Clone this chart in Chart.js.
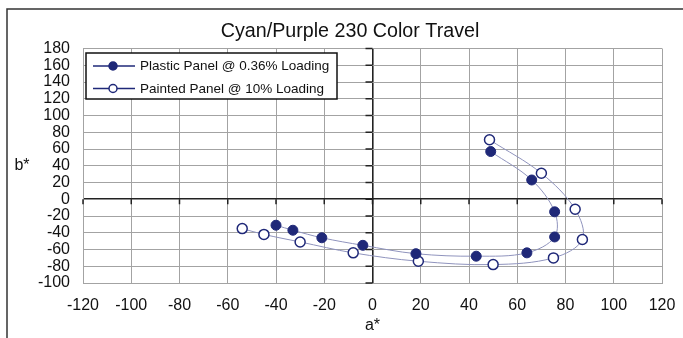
<!DOCTYPE html>
<html><head><meta charset="utf-8">
<script src="https://cdn.jsdelivr.net/npm/chart.js@4.4.1/dist/chart.umd.min.js"></script>
<style>html,body{margin:0;padding:0;background:#fff;}#wrap{width:683px;height:338px;position:relative;}</style>
</head><body><div id="wrap"><canvas id="c" width="683" height="338"></canvas></div>
<script>
const chartTitle = 'Cyan/Purple 230 Color Travel';
const xAxisTitle = 'a*';
const yAxisTitle = 'b*';
const seriesNames = ['Plastic Panel @ 0.36% Loading', 'Painted Panel @ 10% Loading'];
const plasticA = [-40, -33, -21, -4, 18, 43, 64, 75.5, 75.5, 66, 49];
const plasticB = [-31, -37, -46, -55, -65, -68, -64, -45, -15, 23, 57];
const paintedA = [-54, -45, -30, -8, 19, 50, 75, 87, 84, 70, 48.5];
const paintedB = [-35, -42, -51, -64, -74, -78, -70, -48, -12, 31, 71];
const xTicks = [-120, -100, -80, -60, -40, -20, 0, 20, 40, 60, 80, 100, 120];
const yTicks = [-100, -80, -60, -40, -20, 0, 20, 40, 60, 80, 100, 120, 140, 160, 180];

const NAVY = '#1f2878';
const LINE = '#8f93bd';
const GRID = '#a3a3a3';
const FONT = "'Liberation Sans', Arial, sans-serif";

const toPts = (xs, ys) => xs.map((x, i) => ({x: x, y: ys[i]}));

const decor = {
  id: 'decor',
  afterDraw(chart) {
    const ctx = chart.ctx;
    const xs = chart.scales.x, ys = chart.scales.y, ca = chart.chartArea;
    ctx.save();
    // outer frame
    ctx.strokeStyle = '#333'; ctx.lineWidth = 1.5;
    ctx.beginPath(); ctx.moveTo(7, 338); ctx.lineTo(7, 9); ctx.lineTo(683, 9); ctx.stroke();
    // zero-axis tick marks
    const x0 = xs.getPixelForValue(0), y0 = ys.getPixelForValue(0);
    ctx.strokeStyle = '#222'; ctx.lineWidth = 1.5;
    ctx.beginPath();
    yTicks.forEach(v => { const p = ys.getPixelForValue(v); ctx.moveTo(x0 - 7, p); ctx.lineTo(x0, p); });
    xTicks.forEach(v => { const p = xs.getPixelForValue(v); ctx.moveTo(p, y0); ctx.lineTo(p, y0 + 5); });
    ctx.stroke();
    // title
    ctx.fillStyle = '#111';
    ctx.font = '19.7px ' + FONT; ctx.textAlign = 'center'; ctx.textBaseline = 'middle';
    ctx.fillText(chartTitle, 350, 32);
    // y axis title (horizontal)
    ctx.font = '16px ' + FONT;
    ctx.fillText(yAxisTitle, 22, (ca.top + ca.bottom) / 2);
    // legend
    const bx = 86, by = 53, bw = 251, bh = 46;
    ctx.fillStyle = '#fff'; ctx.fillRect(bx, by, bw, bh);
    ctx.strokeStyle = '#111'; ctx.lineWidth = 1.5; ctx.strokeRect(bx, by, bw, bh);
    const rows = [66, 88.5];
    chart.data.datasets.forEach((ds, i) => {
      const y = rows[i];
      ctx.strokeStyle = NAVY; ctx.lineWidth = 1.5;
      ctx.beginPath(); ctx.moveTo(93, y); ctx.lineTo(135, y); ctx.stroke();
      ctx.beginPath(); ctx.arc(113, y, 4, 0, Math.PI * 2);
      ctx.fillStyle = ds.pointBackgroundColor; ctx.fill();
      ctx.lineWidth = 1.5; ctx.strokeStyle = NAVY; ctx.stroke();
      ctx.fillStyle = '#111'; ctx.font = '13.5px ' + FONT; ctx.textAlign = 'left'; ctx.textBaseline = 'middle';
      ctx.fillText(ds.label, 140, y + 0.5);
    });
    ctx.restore();
  }
};

const gridColor = c => (c.tick && c.tick.value === 0) ? '#222' : GRID;
const gridWidth = c => (c.tick && c.tick.value === 0) ? 1.6 : 1;

new Chart(document.getElementById('c'), {
  type: 'scatter',
  data: {
    datasets: [
      { label: seriesNames[0], data: toPts(plasticA, plasticB), showLine: true,
        borderColor: LINE, borderWidth: 1, tension: 0.35,
        pointRadius: 5, pointHoverRadius: 5, pointBackgroundColor: NAVY, pointBorderColor: NAVY, pointBorderWidth: 1 },
      { label: seriesNames[1], data: toPts(paintedA, paintedB), showLine: true,
        borderColor: LINE, borderWidth: 1, tension: 0.35,
        pointRadius: 5, pointHoverRadius: 5, pointBackgroundColor: '#ffffff', pointBorderColor: NAVY, pointBorderWidth: 1.5 }
    ]
  },
  options: {
    responsive: false, animation: false, devicePixelRatio: 1,
    layout: { padding: { left: 0, right: 21, top: 48.5, bottom: 0 } },
    plugins: { legend: { display: false }, title: { display: false }, tooltip: { enabled: false } },
    scales: {
      x: {
        type: 'linear', position: 'bottom', min: xTicks[0], max: xTicks[xTicks.length - 1],
        afterBuildTicks: s => { s.ticks = xTicks.map(v => ({value: v})); },
        afterFit: s => { s.height = 55; s.paddingLeft = 0; s.paddingRight = 0; },
        ticks: { padding: 13, autoSkip: false, maxRotation: 0, color: '#111', font: { family: FONT, size: 16 } },
        grid: { color: gridColor, lineWidth: gridWidth, drawTicks: false },
        border: { color: GRID, width: 1 },
        title: { display: true, text: xAxisTitle, color: '#111', font: { family: FONT, size: 16 }, padding: { top: 0, bottom: 3 } }
      },
      y: {
        type: 'linear', position: 'left', min: yTicks[0], max: yTicks[yTicks.length - 1],
        afterBuildTicks: s => { s.ticks = yTicks.map(v => ({value: v})); },
        afterFit: s => { s.width = 83; s.paddingTop = 0; s.paddingBottom = 0; },
        ticks: { padding: 13, autoSkip: false, color: '#111', font: { family: FONT, size: 16, lineHeight: 1 } },
        grid: { color: gridColor, lineWidth: gridWidth, drawTicks: false },
        border: { color: GRID, width: 1 }
      }
    }
  },
  plugins: [decor]
});
</script></body></html>
